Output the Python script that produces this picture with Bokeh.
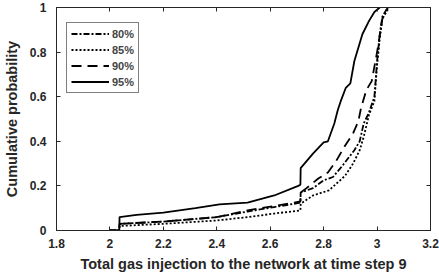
from bokeh.plotting import figure
from bokeh.models import LinearAxis, Range1d, FixedTicker, Legend, LegendItem
from bokeh.embed import file_html
from bokeh.resources import INLINE

x80 = [2.0, 2.035, 2.036, 2.2, 2.4, 2.515, 2.615, 2.69, 2.713, 2.714, 2.76, 2.8, 2.835, 2.87, 2.915, 2.935, 2.95, 2.97, 2.99, 3.0, 3.01, 3.02, 3.04]
y80 = [0.0, 0.0, 0.03, 0.04, 0.06, 0.085, 0.105, 0.12, 0.125, 0.17, 0.19, 0.225, 0.24, 0.29, 0.36, 0.40, 0.48, 0.53, 0.6, 0.76, 0.88, 0.96, 1.0]

x85 = [2.0, 2.035, 2.036, 2.2, 2.4, 2.515, 2.615, 2.713, 2.714, 2.76, 2.82, 2.88, 2.91, 2.935, 2.95, 2.97, 2.99, 3.0, 3.01, 3.02, 3.045]
y85 = [0.0, 0.0, 0.02, 0.03, 0.045, 0.06, 0.076, 0.09, 0.12, 0.157, 0.18, 0.245, 0.30, 0.36, 0.42, 0.52, 0.58, 0.74, 0.86, 0.95, 1.0]

x90 = [2.0, 2.035, 2.036, 2.2, 2.4, 2.515, 2.615, 2.69, 2.713, 2.714, 2.736, 2.78, 2.816, 2.846, 2.88, 2.91, 2.93, 2.94, 2.96, 2.98, 3.0, 3.02, 3.04]
y90 = [0.0, 0.0, 0.03, 0.04, 0.06, 0.09, 0.11, 0.125, 0.13, 0.17, 0.19, 0.233, 0.26, 0.31, 0.38, 0.435, 0.49, 0.55, 0.63, 0.67, 0.8, 0.95, 1.0]

x95 = [2.0, 2.035, 2.036, 2.1, 2.2, 2.32, 2.41, 2.515, 2.615, 2.705, 2.713, 2.714, 2.76, 2.8, 2.816, 2.84, 2.853, 2.864, 2.883, 2.9, 2.915, 2.945, 2.97, 2.99, 3.01]
y95 = [0.0, 0.0, 0.06, 0.07, 0.08, 0.1, 0.117, 0.125, 0.157, 0.2, 0.205, 0.28, 0.345, 0.395, 0.4, 0.48, 0.54, 0.58, 0.64, 0.66, 0.76, 0.88, 0.94, 0.98, 1.0]

labels = ["80%", "85%", "90%", "95%"]
xticks = [1.8, 2.0, 2.2, 2.4, 2.6, 2.8, 3.0, 3.2]
yticks = [0, 0.2, 0.4, 0.6, 0.8, 1.0]
xlabel = "Total gas injection to the network at time step 9"
ylabel = "Cumulative probability"

FONT = "Liberation Sans"
AX = "#262626"

p = figure(width=439, height=276, output_backend="svg", toolbar_location=None,
           x_range=Range1d(1.8, 3.2), y_range=Range1d(0, 1),
           min_border_left=48, min_border_right=9, min_border_top=7, min_border_bottom=46,
           x_axis_label=xlabel, y_axis_label=ylabel)
p.grid.visible = False
p.outline_line_color = AX
p.outline_line_width = 1
p.background_fill_color = "white"
p.border_fill_color = "white"

for ax in p.xaxis + p.yaxis:
    ax.major_tick_in = 4
    ax.major_tick_out = 0
    ax.minor_tick_in = 0
    ax.minor_tick_out = 0
    ax.axis_line_color = AX
    ax.major_tick_line_color = AX
    ax.major_label_text_font = FONT
    ax.major_label_text_font_size = "12px"
    ax.major_label_text_font_style = "bold"
    ax.major_label_text_color = "#262626"
    ax.axis_label_text_font = FONT
    ax.axis_label_text_font_size = "14.5px"
    ax.axis_label_text_font_style = "bold"
    ax.axis_label_text_color = "#262626"
p.xaxis.ticker = FixedTicker(ticks=xticks)
p.yaxis.ticker = FixedTicker(ticks=yticks)
p.xaxis.major_label_overrides = {1.8: "1.8", 2.0: "2", 2.2: "2.2", 2.4: "2.4", 2.6: "2.6", 2.8: "2.8", 3.0: "3", 3.2: "3.2"}
p.yaxis.major_label_overrides = {0: "0", 0.2: "0.2", 0.4: "0.4", 0.6: "0.6", 0.8: "0.8", 1.0: "1"}
p.xaxis.axis_label_standoff = 5
p.yaxis.axis_label_standoff = 7
p.xaxis.major_label_standoff = 8
p.yaxis.major_label_standoff = 10

top = LinearAxis(ticker=FixedTicker(ticks=xticks), major_label_text_font_size="0px",
                 major_label_standoff=0,
                 major_tick_in=4, major_tick_out=0, minor_tick_in=0, minor_tick_out=0,
                 axis_line_color=AX, major_tick_line_color=AX)
right = LinearAxis(ticker=FixedTicker(ticks=yticks), major_label_text_font_size="0px",
                   major_label_standoff=0,
                   major_tick_in=4, major_tick_out=0, minor_tick_in=0, minor_tick_out=0,
                   axis_line_color=AX, major_tick_line_color=AX)
top.major_label_text_alpha = 0
right.major_label_text_alpha = 0
p.add_layout(top, "above")
p.add_layout(right, "right")

lw = 1.8
r80 = p.line(x80, y80, line_color="black", line_width=lw, line_dash="6 2 2 2")
r85 = p.line(x85, y85, line_color="black", line_width=lw, line_dash="2 2")
r90 = p.line(x90, y90, line_color="black", line_width=lw, line_dash="10 6")
r95 = p.line(x95, y95, line_color="black", line_width=lw)

legend = Legend(items=[LegendItem(label=labels[0], renderers=[r80]),
                       LegendItem(label=labels[1], renderers=[r85]),
                       LegendItem(label=labels[2], renderers=[r90]),
                       LegendItem(label=labels[3], renderers=[r95])],
                location=(10, 137), margin=0, padding=4, spacing=3,
                glyph_width=38, glyph_height=13, label_height=13, label_standoff=3,
                label_text_font=FONT, label_text_font_size="11px", label_text_font_style="bold",
                border_line_color="black", border_line_width=1, background_fill_alpha=1)
p.add_layout(legend, "center")

open("out.html", "w").write(file_html(p, INLINE))
